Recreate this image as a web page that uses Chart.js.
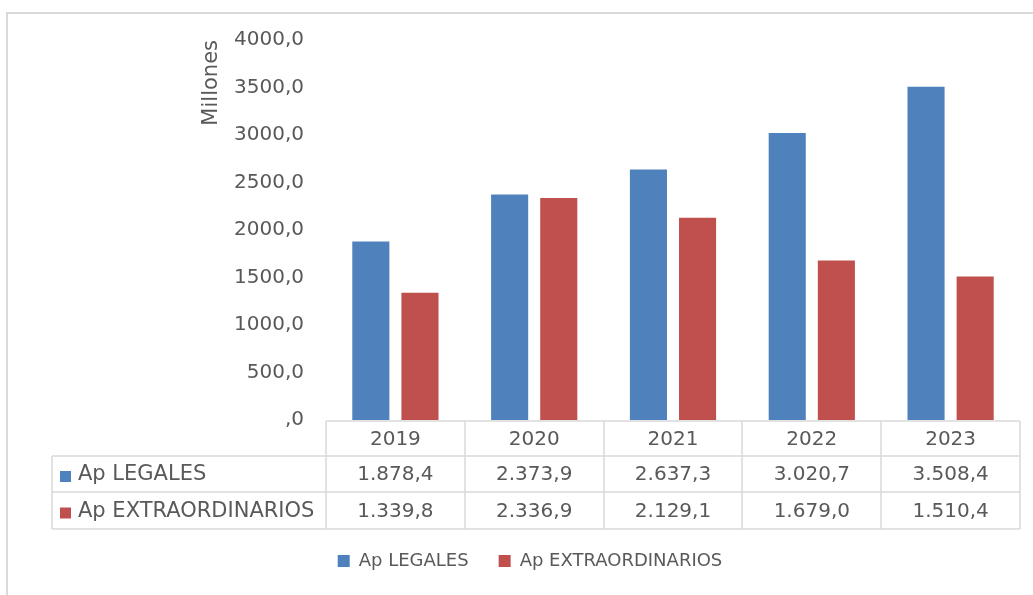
<!DOCTYPE html>
<html>
<head>
<meta charset="utf-8">
<script src="https://cdn.jsdelivr.net/npm/chart.js@4.4.0/dist/chart.umd.min.js"></script>
<style>
  html, body { margin: 0; padding: 0; background: #fff; }
  canvas { display: block; }
</style>
</head>
<body>
<canvas id="myChart" width="1033" height="595"></canvas>
<script>
// Datos
var years = ["2019", "2020", "2021", "2022", "2023"];
var legales = [1878.4, 2373.9, 2637.3, 3020.7, 3508.4];
var extraordinarios = [1339.8, 2336.9, 2129.1, 1679.0, 1510.4];
var seriesNames = ["Ap LEGALES", "Ap EXTRAORDINARIOS"];
var seriesColors = ["#4F81BD", "#C0504D"];
var yMax = 4000;
var yStep = 500;

var textColor = "#595959";
var lineColor = "#d9d9d9";
var fontFam = "'DejaVu Sans', Verdana, sans-serif";
var legendPad = 30;

// formato 1.878,4
function fmtEs(v) {
  var parts = v.toFixed(1).split(".");
  var ent = parts[0].replace(/\B(?=(\d{3})+(?!\d))/g, ".");
  return ent + "," + parts[1];
}

// marco exterior
var marcoPlugin = {
  id: "marco",
  beforeDraw: function (chart) {
    var ctx = chart.ctx;
    ctx.save();
    ctx.fillStyle = "#fff";
    ctx.fillRect(0, 0, chart.width, chart.height);
    ctx.strokeStyle = lineColor;
    ctx.lineWidth = 2;
    ctx.strokeRect(7, 13, chart.width + 10, chart.height + 10);
    ctx.restore();
  }
};

// tabla de datos debajo del grafico
var tablaPlugin = {
  id: "tabla",
  afterDraw: function (chart) {
    var ctx = chart.ctx;
    var xs = chart.scales.x;
    var area = chart.chartArea;
    var colW = (area.right - area.left) / years.length;
    var b = Math.round(area.bottom);
    var rows = [b + 1, b + 36, b + 72, b + 109];
    var leftX = 52;
    var i;

    ctx.save();
    ctx.strokeStyle = lineColor;
    ctx.lineWidth = 1.5;
    ctx.beginPath();
    ctx.moveTo(area.left, rows[0]);
    ctx.lineTo(area.right, rows[0]);
    for (i = 1; i < rows.length; i++) {
      ctx.moveTo(leftX, rows[i]);
      ctx.lineTo(area.right, rows[i]);
    }
    for (i = 0; i <= years.length; i++) {
      var xx = Math.round(area.left + i * colW);
      ctx.moveTo(xx, rows[0]);
      ctx.lineTo(xx, rows[3]);
    }
    ctx.moveTo(leftX, rows[1]);
    ctx.lineTo(leftX, rows[3]);
    ctx.stroke();

    ctx.font = "20px " + fontFam;
    ctx.textBaseline = "middle";
    ctx.textAlign = "center";
    ctx.fillStyle = textColor;
    years.forEach(function (y, i) {
      ctx.fillText(y, xs.getPixelForValue(i), (rows[0] + rows[1]) / 2 + 1);
    });

    chart.data.datasets.forEach(function (ds, s) {
      var cy = (rows[s + 1] + rows[s + 2]) / 2 + 1;
      ctx.font = "20px " + fontFam;
      ctx.textAlign = "center";
      ctx.fillStyle = textColor;
      ds.data.forEach(function (v, i) {
        ctx.fillText(fmtEs(v), xs.getPixelForValue(i), cy);
      });
      ctx.fillStyle = ds.backgroundColor;
      ctx.fillRect(60, cy - 4, 11, 11);
      ctx.font = "21px " + fontFam;
      ctx.fillStyle = textColor;
      ctx.textAlign = "left";
      ctx.fillText(ds.label, 78, cy);
    });
    ctx.restore();
  }
};

new Chart("myChart", {
  type: "bar",
  data: {
    labels: years,
    datasets: [
      { label: seriesNames[0], data: legales, backgroundColor: seriesColors[0] },
      { label: seriesNames[1], data: extraordinarios, backgroundColor: seriesColors[1] }
    ]
  },
  options: {
    responsive: false,
    animation: false,
    devicePixelRatio: 1,
    layout: { padding: { left: 40, right: 13, top: 40, bottom: 15 } },
    datasets: { bar: { categoryPercentage: 0.708, barPercentage: 0.755 } },
    scales: {
      x: {
        grid: { display: false, drawTicks: false },
        border: { display: false },
        ticks: { display: false },
        afterFit: function (s) { s.height = 132 - legendPad; }
      },
      y: {
        min: 0,
        max: yMax,
        grid: { display: false, drawTicks: false },
        border: { display: false },
        ticks: {
          stepSize: yStep,
          padding: 22,
          color: textColor,
          font: { family: fontFam, size: 20 },
          callback: function (v) {
            return v === 0 ? ",0" : v.toFixed(1).replace(".", ",");
          }
        },
        title: {
          display: true,
          text: "Millones",
          align: "end",
          color: textColor,
          font: { family: fontFam, size: 21 },
          padding: { top: 159, bottom: 0 }
        },
        afterFit: function (s) { s.width = 286; }
      }
    },
    plugins: {
      legend: {
        position: "bottom",
        labels: {
          boxWidth: 12,
          boxHeight: 12,
          padding: legendPad,
          color: textColor,
          font: { family: fontFam, size: 18 }
        }
      },
      tooltip: { enabled: false }
    }
  },
  plugins: [marcoPlugin, tablaPlugin]
});
</script>
</body>
</html>
